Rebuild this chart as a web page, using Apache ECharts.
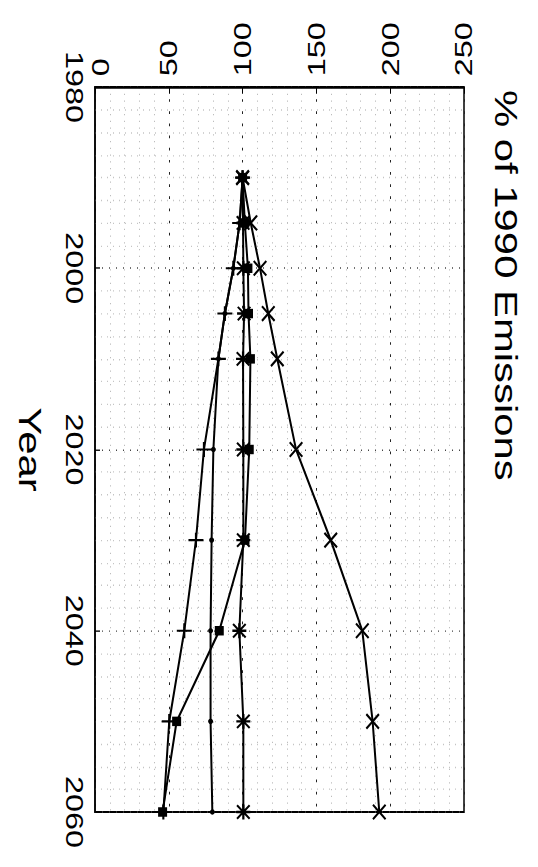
<!DOCTYPE html>
<html>
<head>
<meta charset="utf-8">
<script src="https://cdn.jsdelivr.net/npm/echarts@6/dist/echarts.min.js"></script>
<style>
  html, body { margin: 0; padding: 0; background: #fff; overflow: hidden; }
  #wrap { width: 538px; height: 867px; overflow: hidden; }
  #chart { width: 538px; transform-origin: 0 0; }
</style>
</head>
<body>
<div id="wrap"><div id="chart"></div></div>
<script>
// Emission scenarios, % of 1990 level
const years        = [1990, 1995, 2000, 2005, 2010, 2020, 2030, 2040, 2050, 2060];
const seriesCross  = [100, 105.5, 111.8, 117.4, 123.5, 136.2, 159.7, 181.1, 188.1, 192.6];
const seriesStar   = [100, 100.3, 100.5, 101.0, 100.3, 100.5, 100.5, 97.8, 100.5, 100.5];
const seriesSquare = [100, 101.5, 103.6, 104.0, 105.3, 104.5, 101.6, 84.2, 55.3, 45.8];
const seriesPlus   = [100, 98.0, 93.7, 88.0, 83.6, 73.8, 68.4, 60.5, 50.3, 46.3];
const seriesDot    = [100, 98.0, 93.7, 88.0, 83.6, 80.2, 79.0, 78.3, 78.3, 79.5];

const yearTicks = [1980, 2000, 2020, 2040, 2060];
const pctTicks  = [0, 50, 100, 150, 200, 250];

const titleText = '% of 1990 Emissions';
const yearName  = 'Year';

// the figure is drawn sideways and stretched along the page height
const STRETCH = 1.35;
const W = 538, H = 867 / STRETCH;
const el = document.getElementById('chart');
el.style.height = H + 'px';
el.style.transform = 'scaleY(' + STRETCH + ')';

const FONT = 'Liberation Sans';
const CROSS_PATH  = 'path://M0,1L1,0L5,4L9,0L10,1L6,5L10,9L9,10L5,6L1,10L0,9L4,5Z';
const PLUS_PATH   = 'path://M4.3,0H5.7V4.3H10V5.7H5.7V10H4.3V5.7H0V4.3H4.3Z';
const STAR_PATH   = 'path://M0,1L1,0L5,4L9,0L10,1L6,5L10,9L9,10L5,6L1,10L0,9L4,5Z' +
                    'M4.2,0H5.8V4.2H10V5.8H5.8V10H4.2V5.8H0V4.2H4.2Z';

function pairs(vals) { return years.map((y, i) => [vals[i], y]); }

function lineSeries(name, vals, symbol, size, z) {
  return {
    name, type: 'line', data: pairs(vals), symbol, symbolSize: size,
    showSymbol: true, z,
    lineStyle: { color: '#000', width: 2 },
    itemStyle: { color: '#000' },
    emphasis: { disabled: true },
    animation: false
  };
}

const chart = echarts.init(el, null, { renderer: 'svg', width: W, height: H });
chart.setOption({
  backgroundColor: '#fff',
  animation: false,
  grid: {
    left: 95, right: 74, top: 87 / STRETCH, bottom: (867 - 812) / STRETCH,
    show: true, borderColor: '#000', borderWidth: 1.5, backgroundColor: 'transparent'
  },
  xAxis: {
    type: 'value', position: 'top',
    min: pctTicks[0], max: pctTicks[pctTicks.length - 1], interval: pctTicks[1] - pctTicks[0],
    axisLine: { show: true, lineStyle: { color: '#000', width: 1.5 } },
    axisTick: { show: true, inside: true, length: 5, lineStyle: { color: '#000' } },
    axisLabel: {
      rotate: -90, margin: 8, fontSize: 24, fontFamily: FONT, color: '#000',
      formatter: v => v === 0 ? '{z|0}' : String(v),
      rich: { z: { fontSize: 24, fontFamily: FONT, color: '#000', padding: [12, 0, 0, 0] } }
    },
    splitLine: { show: true, lineStyle: { color: '#222', type: [2, 7], width: 1 } },
    minorTick: { show: false, splitNumber: 5 },
    minorSplitLine: { show: true, lineStyle: { color: '#bdbdbd', type: [1, 4], width: 1 } }
  },
  yAxis: {
    type: 'value', inverse: true,
    min: yearTicks[0], max: yearTicks[yearTicks.length - 1], interval: yearTicks[1] - yearTicks[0],
    name: yearName, nameLocation: 'middle', nameRotate: -90, nameGap: 50,
    nameTextStyle: { fontSize: 31, fontFamily: FONT, color: '#000' },
    axisLine: { show: true, lineStyle: { color: '#000', width: 1.5 } },
    axisTick: { show: true, inside: true, length: 5, lineStyle: { color: '#000' } },
    axisLabel: { rotate: -90, margin: 9, fontSize: 24, fontFamily: FONT, color: '#000',
                 formatter: v => String(v) },
    splitLine: { show: true, lineStyle: { color: '#444', type: [1, 6], width: 1 } },
    minorTick: { show: false, splitNumber: 8 },
    minorSplitLine: { show: true, lineStyle: { color: '#c4c4c4', type: [1, 5], width: 1 } }
  },
  graphic: [{
    type: 'text', x: 506, y: 90 / STRETCH, rotation: -Math.PI / 2,
    style: { text: titleText, fontSize: 31, fontFamily: FONT, fill: '#000',
             align: 'left', verticalAlign: 'middle' }
  }],
  series: [
    lineSeries('dot',    seriesDot,    'circle',   [5, 4],   2),
    lineSeries('plus',   seriesPlus,   PLUS_PATH,  [15, 11], 3),
    lineSeries('square', seriesSquare, 'rect',     [9, 7],   4),
    lineSeries('star',   seriesStar,   STAR_PATH,  [14, 11], 5),
    lineSeries('cross',  seriesCross,  CROSS_PATH, [14, 12], 6)
  ]
});
</script>
</body>
</html>
